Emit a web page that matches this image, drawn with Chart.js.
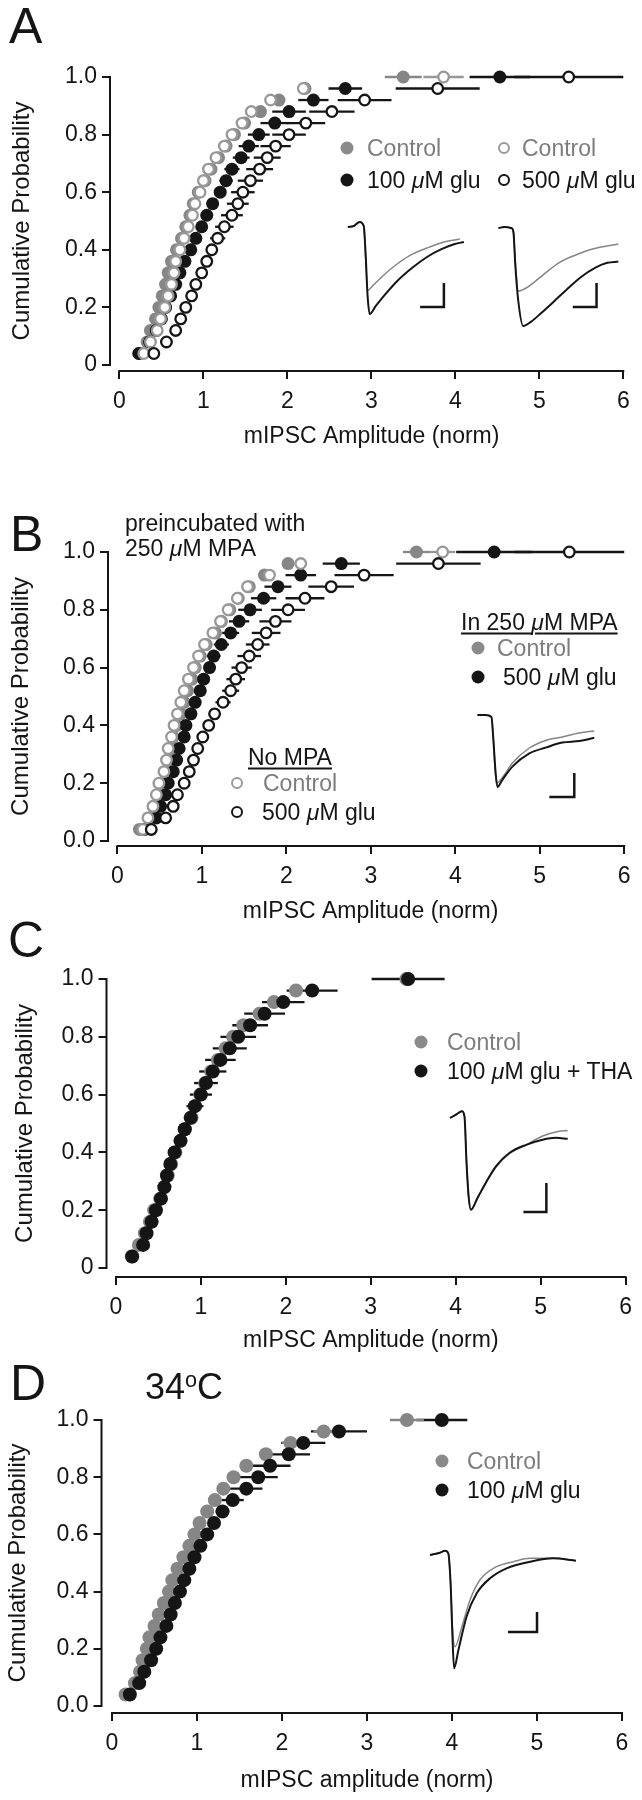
<!DOCTYPE html>
<html>
<head>
<meta charset="utf-8">
<script src="https://cdn.jsdelivr.net/npm/chart.js@4.4.1/dist/chart.umd.min.js"></script>
<style>
  body { margin: 0; background: #fff; width: 642px; height: 1800px; position: relative; overflow: hidden;
         font-family: "Liberation Sans", Arial, Helvetica, sans-serif; color: #151515; }
  .panel { position: absolute; left: 0; width: 642px; }
  .t { position: absolute; white-space: nowrap; line-height: 1; transform: translateY(-50%); font-size: 23px; }
  .g { color: #7d7d7d; }
  .mu { font-style: italic; }
  .u { text-decoration: underline; text-decoration-thickness: 2px; text-underline-offset: 3px; }
  .fd { position: absolute; width: 13px; height: 13px; border-radius: 50%; transform: translate(-50%, -50%); }
  .od { position: absolute; width: 8px; height: 8px; border: 2px solid; border-radius: 50%; background: #fff; transform: translate(-50%, -50%); }
</style>
</head>
<body>

<div class="panel" style="top:0px;height:460px"><canvas id="cA" width="642" height="460"></canvas></div>
<div class="panel" style="top:460px;height:470px"><canvas id="cB" width="642" height="470"></canvas></div>
<div class="panel" style="top:930px;height:430px"><canvas id="cC" width="642" height="430"></canvas></div>
<div class="panel" style="top:1360px;height:440px"><canvas id="cD" width="642" height="440"></canvas></div>

<!-- panel letters and annotations -->
<div class="t" style="left:9px;top:26px;font-size:50px">A</div>
<div class="t" style="left:10px;top:534px;font-size:50px">B</div>
<div class="t" style="left:8px;top:940px;font-size:50px">C</div>
<div class="t" style="left:10px;top:1383px;font-size:50px">D</div>
<div class="t" style="left:145px;top:1387px;font-size:36px">34<span style="font-size:0.6em;vertical-align:0.6em">o</span>C</div>

<!-- A legend -->
<span class="fd" style="left:347px;top:148px;background:#8a8a8a"></span>
<div class="t g" style="left:367px;top:148px">Control</div>
<span class="fd" style="left:347px;top:180px;background:#151515"></span>
<div class="t" style="left:367px;top:180px">100 <span class="mu">μ</span>M glu</div>
<span class="od" style="left:504px;top:148px;border-color:#9a9a9a"></span>
<div class="t g" style="left:522px;top:148px">Control</div>
<span class="od" style="left:504px;top:180px;border-color:#151515"></span>
<div class="t" style="left:522px;top:180px">500 <span class="mu">μ</span>M glu</div>

<!-- B annotations -->
<div class="t" style="left:125px;top:523px">preincubated with</div>
<div class="t" style="left:125px;top:548px">250 <span class="mu">μ</span>M MPA</div>
<div class="t u" style="left:461px;top:622px">In 250 <span class="mu">μ</span>M MPA</div>
<span class="fd" style="left:478px;top:648px;background:#8a8a8a"></span>
<div class="t g" style="left:497px;top:648px">Control</div>
<span class="fd" style="left:478px;top:677px;background:#151515"></span>
<div class="t" style="left:503px;top:677px">500 <span class="mu">μ</span>M glu</div>
<div class="t u" style="left:248px;top:757px">No MPA</div>
<span class="od" style="left:237px;top:783px;border-color:#9a9a9a"></span>
<div class="t g" style="left:263px;top:783px">Control</div>
<span class="od" style="left:237px;top:812px;border-color:#151515"></span>
<div class="t" style="left:262px;top:812px">500 <span class="mu">μ</span>M glu</div>

<!-- C legend -->
<span class="fd" style="left:421px;top:1042px;background:#8a8a8a"></span>
<div class="t g" style="left:447px;top:1042px">Control</div>
<span class="fd" style="left:421px;top:1071px;background:#151515"></span>
<div class="t" style="left:447px;top:1071px">100 <span class="mu">μ</span>M glu + THA</div>

<!-- D legend -->
<span class="fd" style="left:442px;top:1461px;background:#8a8a8a"></span>
<div class="t g" style="left:467px;top:1461px">Control</div>
<span class="fd" style="left:442px;top:1490px;background:#151515"></span>
<div class="t" style="left:467px;top:1490px">100 <span class="mu">μ</span>M glu</div>

<script>
// ==== Data ====
const probs = [0.04, 0.08, 0.12, 0.16, 0.20, 0.24, 0.28, 0.32, 0.36, 0.40, 0.44, 0.48, 0.52,
               0.56, 0.60, 0.64, 0.68, 0.72, 0.76, 0.80, 0.84, 0.88, 0.92, 0.96, 1.00];
const xTicks = [0, 1, 2, 3, 4, 5, 6];
const yTicks = [0, 0.2, 0.4, 0.6, 0.8, 1.0];
const yLabelsShort = ['0', '0.2', '0.4', '0.6', '0.8', '1.0'];
const yLabelsLong = ['0.0', '0.2', '0.4', '0.6', '0.8', '1.0'];

// Panel A: 100 uM glu and 500 uM glu, each with its own control
const aCtrl100 = [0.24, 0.33, 0.37, 0.43, 0.47, 0.51, 0.55, 0.58, 0.62, 0.68, 0.74, 0.79, 0.84,
                  0.88, 0.94, 1.02, 1.09, 1.18, 1.27, 1.37, 1.49, 1.68, 1.90, 2.21, 3.38];
const aGlu100  = [0.23, 0.36, 0.44, 0.50, 0.55, 0.61, 0.67, 0.72, 0.78, 0.85, 0.91, 0.98, 1.04,
                  1.11, 1.20, 1.27, 1.34, 1.45, 1.54, 1.66, 1.85, 2.02, 2.31, 2.69, 4.53];
const aCtrl500 = [0.29, 0.37, 0.45, 0.49, 0.54, 0.58, 0.62, 0.65, 0.67, 0.72, 0.77, 0.82, 0.87,
                  0.90, 0.96, 1.00, 1.06, 1.15, 1.25, 1.34, 1.46, 1.57, 1.80, 2.19, 3.86];
const aGlu500  = [0.41, 0.56, 0.67, 0.73, 0.79, 0.86, 0.91, 0.98, 1.04, 1.10, 1.17, 1.25, 1.34,
                  1.41, 1.47, 1.56, 1.67, 1.76, 1.86, 2.02, 2.22, 2.53, 2.92, 3.79, 5.35];
const aCtrl100Err = [0, 0, 0, 0, 0, 0, 0, 0, 0, 0, 0, 0, 0, 0, 0, 0, 0, 0, 0, 0, 0, 0, 0, 0, 0.22];
const aGlu100Err  = [0, 0, 0, 0, 0, 0, 0, 0, 0.03, 0.04, 0.05, 0.06, 0.06, 0.07, 0.07, 0.08, 0.09,
                     0.10, 0.12, 0.13, 0.17, 0.20, 0.18, 0.20, 0.36];
const aCtrl500Err = [0, 0, 0, 0, 0, 0, 0, 0, 0, 0, 0, 0, 0, 0, 0, 0, 0, 0, 0, 0, 0, 0, 0, 0, 0.24];
const aGlu500Err  = [0, 0, 0, 0, 0, 0, 0.03, 0.04, 0.05, 0.07, 0.09, 0.11, 0.13, 0.13, 0.14, 0.15,
                     0.16, 0.16, 0.18, 0.20, 0.23, 0.27, 0.32, 0.50, 0.65];

// Panel B: in 250 uM MPA (filled) and no MPA (open)
const bCtrlMPA = [0.26, 0.38, 0.44, 0.48, 0.52, 0.57, 0.62, 0.64, 0.66, 0.70, 0.75, 0.79, 0.83,
                  0.88, 0.92, 0.98, 1.05, 1.16, 1.23, 1.33, 1.43, 1.56, 1.74, 2.02, 3.54];
const bGluMPA  = [0.32, 0.46, 0.51, 0.57, 0.60, 0.66, 0.70, 0.73, 0.79, 0.81, 0.87, 0.92, 0.98,
                  1.02, 1.09, 1.14, 1.23, 1.34, 1.44, 1.57, 1.73, 1.90, 2.17, 2.65, 4.46];
const bCtrl    = [0.30, 0.36, 0.42, 0.46, 0.49, 0.55, 0.58, 0.60, 0.64, 0.67, 0.71, 0.75, 0.79,
                  0.84, 0.90, 0.96, 1.03, 1.13, 1.22, 1.31, 1.42, 1.54, 1.80, 2.17, 3.85];
const bGlu     = [0.40, 0.57, 0.66, 0.71, 0.79, 0.85, 0.90, 0.95, 1.01, 1.08, 1.15, 1.25, 1.34,
                  1.40, 1.47, 1.56, 1.66, 1.76, 1.87, 2.02, 2.22, 2.53, 2.92, 3.80, 5.35];
const bCtrlMPAErr = [0, 0, 0, 0, 0, 0, 0, 0, 0, 0, 0, 0, 0, 0, 0, 0, 0, 0, 0, 0, 0, 0, 0, 0, 0.16];
const bGluMPAErr  = [0, 0, 0, 0, 0, 0, 0, 0, 0, 0, 0.04, 0.05, 0.05, 0.06, 0.07, 0.08, 0.09, 0.10,
                     0.12, 0.14, 0.15, 0.16, 0.18, 0.22, 0.45];
const bCtrlErr    = [0, 0, 0, 0, 0, 0, 0, 0, 0, 0, 0, 0, 0, 0, 0, 0, 0, 0, 0, 0, 0, 0, 0, 0, 0.15];
const bGluErr     = [0, 0, 0, 0, 0, 0, 0, 0, 0.04, 0.06, 0.07, 0.09, 0.10, 0.11, 0.12, 0.14, 0.14,
                     0.17, 0.19, 0.20, 0.23, 0.27, 0.35, 0.50, 0.65];

// Panel C: 100 uM glu + THA
const cCtrl = [0.19, 0.27, 0.34, 0.40, 0.45, 0.52, 0.57, 0.61, 0.65, 0.70, 0.76, 0.81, 0.89,
               0.93, 0.99, 1.05, 1.12, 1.20, 1.29, 1.38, 1.50, 1.69, 1.86, 2.12, 3.42];
const cGlu  = [0.19, 0.32, 0.36, 0.42, 0.47, 0.53, 0.57, 0.60, 0.64, 0.69, 0.76, 0.81, 0.88,
               0.93, 1.00, 1.06, 1.14, 1.23, 1.34, 1.44, 1.58, 1.75, 1.97, 2.31, 3.44];
const cGluErr = [0, 0, 0, 0, 0, 0, 0, 0, 0, 0, 0.06, 0.07, 0.08, 0.10, 0.13, 0.14, 0.16, 0.18,
                 0.20, 0.21, 0.21, 0.24, 0.25, 0.30, 0.43];

// Panel D: 34 C, 100 uM glu
const dCtrl = [0.16, 0.27, 0.33, 0.36, 0.41, 0.44, 0.50, 0.55, 0.61, 0.67, 0.71, 0.77, 0.84,
               0.91, 0.97, 1.03, 1.12, 1.21, 1.31, 1.43, 1.58, 1.81, 2.10, 2.49, 3.47];
const dGlu  = [0.21, 0.32, 0.38, 0.46, 0.52, 0.57, 0.64, 0.69, 0.74, 0.80, 0.85, 0.91, 0.97,
               1.04, 1.12, 1.20, 1.30, 1.42, 1.58, 1.72, 1.86, 2.08, 2.25, 2.67, 3.88];
const dCtrlErr = [0, 0, 0, 0, 0, 0, 0, 0, 0, 0, 0, 0, 0, 0, 0, 0, 0, 0, 0, 0, 0, 0, 0.10, 0.12, 0.20];
const dGluErr  = [0, 0, 0, 0, 0, 0, 0, 0, 0, 0, 0, 0, 0, 0, 0.06, 0.07, 0.08, 0.13, 0.19, 0.23,
                  0.24, 0.25, 0.26, 0.33, 0.30];

// Inset traces: [time (ms), current (pA)]; scale bars are 10 ms x 20 pA
const insA1Ctrl = [[0, 0], [2.5, 0.8], [5, 4.2], [6.7, 0.8], [7.5, -26], [8.3, -53], [10, -50], [14.6, -41],
                   [19.6, -32.5], [25.8, -24], [33.3, -17.5], [40.4, -12.5], [47.1, -10]];
const insA1Glu  = [[0, 0], [2.5, 0.8], [5, 4.2], [6.7, 0.8], [7.5, -23], [8.3, -57], [9.2, -72.5], [11.7, -66],
                   [15.8, -56], [20.8, -45], [27.1, -34], [33.3, -25], [39.6, -18.3], [45, -14.2], [48.8, -12.5]];
const barA1 = [[40.4, -46.7], [40.4, -66.7], [30.4, -66.7]];
const insA2Ctrl = [[0, 0], [2.5, 0.8], [5.4, 0], [6.3, -3.3], [7.1, -28], [8.3, -52.5], [11.7, -50], [18.8, -39],
                   [25.4, -29], [32.5, -22.5], [39.6, -17.5], [50.4, -13.3]];
const insA2Glu  = [[0, 0], [2.5, 0.8], [5.4, 0], [6.3, -3.3], [7.1, -31], [8.3, -60], [10.4, -81.7], [13.8, -78],
                   [17.9, -71], [22.9, -62], [28.3, -52], [34.6, -41], [40.8, -33], [45.8, -29], [50.4, -28]];
const barA2 = [[41.25, -45.8], [41.25, -65.8], [31.25, -65.8]];
const insBCtrl = [[0, 0], [3.2, 0], [5.6, -1.7], [6.4, -21], [7.6, -56.7], [10, -52], [14, -40], [20.8, -27.5],
                  [27.6, -21], [34, -18.3], [40.8, -15], [46.8, -13.3]];
const insBGlu  = [[0, 0], [3.2, 0], [5.6, -1.7], [6.4, -21], [7.2, -46], [8, -60], [10, -54], [14, -43],
                  [20.8, -32], [27.6, -27], [34, -23], [40.8, -21.7], [46.8, -19]];
const barB = [[38.8, -48.3], [38.8, -68.3], [28.8, -68.3]];
const insCCtrl = [[0, 0], [2.6, 2.3], [5.2, 4.6], [6.3, 1.1], [7.2, -30.8], [8.1, -54], [9.1, -63.2], [12, -55.5],
                  [15.6, -45], [20, -34], [26, -24.5], [33.2, -18.5], [40.4, -12.4], [47.1, -9.3], [51.3, -8.6]];
const insCGlu  = [[0, 0], [2.6, 2.3], [5.2, 4.6], [6.3, 1.1], [7.2, -30.8], [8.1, -54], [9.1, -63.2], [12, -55],
                  [15.6, -44.6], [20, -33.3], [26, -24], [33.2, -18.5], [40.4, -15], [46.2, -13.7], [51.3, -14.3]];
const barC = [[42, -44.8], [42, -64.8], [32, -64.8]];
const insDCtrl = [[0, 0], [3.4, 2.3], [5.2, 4.3], [6.3, 1.7], [7.1, -28.3], [7.7, -70], [8.6, -91.7], [11, -71.7],
                  [13.8, -45], [17.2, -25], [22.9, -11.7], [28.7, -6.7], [34.5, -3.3], [42.5, -3.3], [50.3, -5.7]];
const insDGlu  = [[0, 0], [3.4, 2.3], [5.2, 4.3], [6.3, 1.7], [7.1, -28.3], [7.7, -78.3], [8.3, -113.3], [9.8, -95],
                  [12.6, -61.7], [16.1, -38.3], [20.7, -23.3], [26.4, -13.3], [34.5, -6.7], [42.5, -3.3], [50.3, -5.7]];
const barD = [[36.9, -57], [36.9, -77], [26.9, -77]];

// ==== Style ====
const GRAY = '#868686';
const GRAY_OPEN = '#989898';
const DARK = '#151515';
const FONT = "'Liberation Sans', Arial, Helvetica, sans-serif";
Chart.defaults.font.family = FONT;
Chart.defaults.color = DARK;

// ---- dataset helpers ----
function cdf(xs, errs, kind, r, order) {
  const ds = { data: xs.map((x, i) => ({ x, y: probs[i] })), xErr: errs, showLine: false,
               clip: false, order, pointHoverRadius: r };
  if (kind === 'grayFill') Object.assign(ds, { pointRadius: r, pointBackgroundColor: GRAY, pointBorderWidth: 0, errColor: GRAY });
  if (kind === 'darkFill') Object.assign(ds, { pointRadius: r, pointBackgroundColor: DARK, pointBorderWidth: 0, errColor: DARK });
  if (kind === 'grayOpen') Object.assign(ds, { pointRadius: r - 1.2, pointBackgroundColor: '#fff', pointBorderColor: GRAY_OPEN, pointBorderWidth: 2.3, errColor: GRAY_OPEN });
  if (kind === 'darkOpen') Object.assign(ds, { pointRadius: r - 1.2, pointBackgroundColor: '#fff', pointBorderColor: DARK, pointBorderWidth: 2.3, errColor: DARK });
  return ds;
}

function trace(rows, color, width, n, order) {
  return { data: rows.map(([x, y]) => ({ x, y })), xAxisID: 'xi' + n, yAxisID: 'yi' + n,
           showLine: true, pointRadius: 0, borderColor: color, borderWidth: width,
           cubicInterpolationMode: 'monotone', clip: false, order };
}

function scaleBar(rows, n) {
  return { data: rows.map(([x, y]) => ({ x, y })), xAxisID: 'xi' + n, yAxisID: 'yi' + n,
           showLine: true, pointRadius: 0, borderColor: DARK, borderWidth: 2.5, tension: 0, clip: false, order: 20 };
}

// ---- plugins ----
const errorBars = {
  id: 'errorBars',
  beforeDatasetsDraw(chart) {
    const { ctx } = chart, xs = chart.scales.x, ys = chart.scales.y;
    chart.data.datasets.forEach(ds => {
      if (!ds.xErr) return;
      ctx.save();
      ctx.strokeStyle = ds.errColor;
      ctx.lineWidth = 2.3;
      ds.data.forEach((p, i) => {
        const e = ds.xErr[i];
        if (!e) return;
        const py = ys.getPixelForValue(p.y);
        ctx.beginPath();
        ctx.moveTo(xs.getPixelForValue(p.x - e), py);
        ctx.lineTo(xs.getPixelForValue(p.x + e), py);
        ctx.stroke();
      });
      ctx.restore();
    });
  }
};

// offset axis lines: x from first to last tick, y from 0 to 1
const axisLines = {
  id: 'axisLines',
  beforeDatasetsDraw(chart) {
    const { ctx, chartArea } = chart, x = chart.scales.x, y = chart.scales.y;
    ctx.save();
    ctx.strokeStyle = DARK;
    ctx.lineWidth = 2;
    ctx.beginPath();
    ctx.moveTo(x.getPixelForValue(xTicks[0]) - 1, chartArea.bottom);
    ctx.lineTo(x.getPixelForValue(xTicks[xTicks.length - 1]) + 1, chartArea.bottom);
    ctx.moveTo(chartArea.left, y.getPixelForValue(yTicks[0]) + 1);
    ctx.lineTo(chartArea.left, y.getPixelForValue(yTicks[yTicks.length - 1]) - 1);
    ctx.stroke();
    ctx.restore();
  }
};

// ---- panel builder ----
// f: frame of the panel in canvas pixels (chart area, where 0 and 6 / 0 and 1 fall)
function buildPanel(id, f, datasets, insets, yLabels, xTitle) {
  const tickFont = { size: 23 };
  const xLh = 23 * 1.2, yLh = 24 * 1.2;
  const xAxisH = f.titleY + xLh / 2 - f.B;
  const xLast = xTicks[xTicks.length - 1], yLast = yTicks[yTicks.length - 1];
  const xUnit = (f.x6 - f.x0) / xLast;
  const yUnit = (f.y0 - f.y1) / yLast;

  const scales = {
    x: {
      type: 'linear',
      min: -(f.x0 - f.L) / xUnit,
      max: xLast + (f.R - f.x6) / xUnit,
      afterBuildTicks: s => { s.ticks = xTicks.map(v => ({ value: v })); },
      afterFit: s => { s.height = xAxisH; },
      ticks: { font: tickFont, color: DARK, padding: 9, maxRotation: 0, autoSkip: false, callback: v => String(v) },
      grid: { drawOnChartArea: false, drawTicks: true, tickLength: 8, color: DARK, lineWidth: 2 },
      border: { display: false },
      title: { display: true, text: xTitle, font: { size: 23 }, color: DARK, padding: { top: 0, bottom: 0 } }
    },
    y: {
      type: 'linear',
      min: -(f.B - f.y0) / yUnit,
      max: yLast + (f.y1 - f.T) / yUnit,
      afterBuildTicks: s => { s.ticks = yTicks.map(v => ({ value: v })); },
      afterFit: s => { s.width = f.L; },
      ticks: { font: tickFont, color: DARK, padding: 5, autoSkip: false, callback: (v, i) => yLabels[i] },
      grid: { drawOnChartArea: false, drawTicks: true, tickLength: 8, color: DARK, lineWidth: 2 },
      border: { display: false },
      title: { display: true, text: 'Cumulative Probability', font: { size: 24 }, color: DARK,
               padding: { top: f.yTitleX - yLh / 2, bottom: 0 } }
    }
  };

  // hidden scales that place each current-trace inset
  insets.forEach((ins, i) => {
    const n = i + 1;
    scales['xi' + n] = { type: 'linear', display: false, min: (f.L - ins.ox) / ins.kx, max: (f.R - ins.ox) / ins.kx };
    scales['yi' + n] = { type: 'linear', display: false, min: (ins.oy - f.B) / ins.ky, max: (ins.oy - f.T) / ins.ky };
  });

  return new Chart(document.getElementById(id), {
    type: 'scatter',
    data: { datasets },
    options: {
      responsive: false,
      animation: false,
      devicePixelRatio: 1,
      events: [],
      layout: { padding: { left: 0, right: 642 - f.R, top: f.T, bottom: f.h - f.B - xAxisH } },
      plugins: { legend: { display: false }, tooltip: { enabled: false } },
      scales
    },
    plugins: [axisLines, errorBars]
  });
}

// ==== Panels ====
buildPanel('cA',
  { h: 460, L: 110, R: 638, T: 71, B: 371, x0: 119.5, x6: 628, y0: 365, y1: 77, titleY: 437, yTitleX: 22 },
  [
    cdf(aGlu500, aGlu500Err, 'darkOpen', 6.5, 1),
    cdf(aCtrl500, aCtrl500Err, 'grayOpen', 6.5, 2),
    cdf(aGlu100, aGlu100Err, 'darkFill', 6.5, 3),
    cdf(aCtrl100, aCtrl100Err, 'grayFill', 6.5, 4),
    trace(insA1Glu, DARK, 2, 1, 11), trace(insA1Ctrl, GRAY, 1.5, 1, 12), scaleBar(barA1, 1),
    trace(insA2Glu, DARK, 2, 2, 11), trace(insA2Ctrl, GRAY, 1.5, 2, 12), scaleBar(barA2, 2)
  ],
  [{ ox: 350, oy: 227, kx: 2.4, ky: 1.2 }, { ox: 502, oy: 228, kx: 2.4, ky: 1.2 }],
  yLabelsShort, 'mIPSC Amplitude (norm)');

buildPanel('cB',
  { h: 470, L: 108, R: 634, T: 87, B: 386, x0: 117.5, x6: 625, y0: 381, y1: 92, titleY: 452, yTitleX: 21 },
  [
    cdf(bGlu, bGluErr, 'darkOpen', 6.5, 1),
    cdf(bCtrl, bCtrlErr, 'grayOpen', 6.5, 2),
    cdf(bGluMPA, bGluMPAErr, 'darkFill', 6.5, 3),
    cdf(bCtrlMPA, bCtrlMPAErr, 'grayFill', 6.5, 4),
    trace(insBGlu, DARK, 2, 1, 11), trace(insBCtrl, GRAY, 1.5, 1, 12), scaleBar(barB, 1)
  ],
  [{ ox: 478, oy: 255, kx: 2.5, ky: 1.2 }],
  yLabelsLong, 'mIPSC Amplitude (norm)');

buildPanel('cC',
  { h: 430, L: 106.5, R: 636.5, T: 40, B: 347, x0: 116, x6: 627, y0: 338, y1: 49, titleY: 411, yTitleX: 25 },
  [
    cdf(cGlu, cGluErr, 'darkFill', 7, 1),
    cdf(cCtrl, null, 'grayFill', 7, 2),
    trace(insCGlu, DARK, 2, 1, 11), trace(insCCtrl, GRAY, 1.5, 1, 12), scaleBar(barC, 1)
  ],
  [{ ox: 451, oy: 188, kx: 2.3, ky: 1.45 }],
  yLabelsShort, 'mIPSC Amplitude (norm)');

buildPanel('cD',
  { h: 440, L: 101.5, R: 632.5, T: 53, B: 353, x0: 112, x6: 622, y0: 346, y1: 60, titleY: 421, yTitleX: 18 },
  [
    cdf(dGlu, dGluErr, 'darkFill', 7, 1),
    cdf(dCtrl, dCtrlErr, 'grayFill', 7, 2),
    trace(insDGlu, DARK, 2, 1, 11), trace(insDCtrl, GRAY, 1.5, 1, 12), scaleBar(barD, 1)
  ],
  [{ ox: 430, oy: 195, kx: 2.9, ky: 1.0 }],
  yLabelsLong, 'mIPSC amplitude (norm)');
</script>
</body>
</html>
